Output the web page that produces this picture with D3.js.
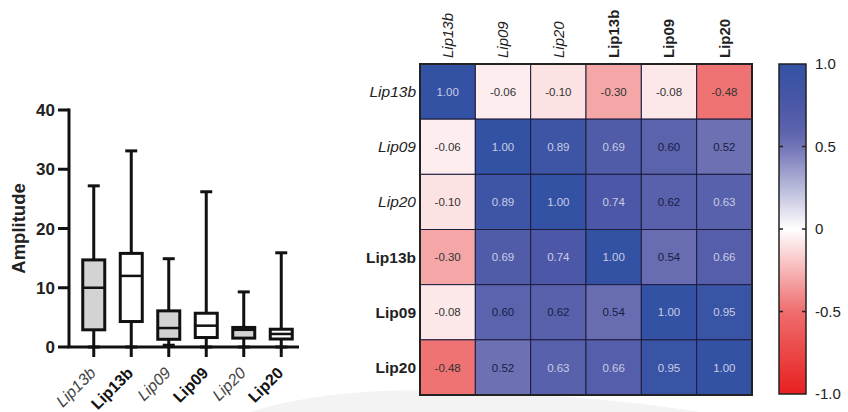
<!DOCTYPE html>
<html><head><meta charset="utf-8">
<script src="https://cdn.jsdelivr.net/npm/d3@7"></script>
<style>
html,body{margin:0;padding:0;background:#fff;}
svg{display:block;font-family:"Liberation Sans",Arial,sans-serif;}
</style></head>
<body><svg id="c" width="848" height="412"></svg>
<script>
// ---- Box plot data ----
const boxCategories = ["Lip13b","Lip13b","Lip09","Lip09","Lip20","Lip20"];
const boxMin    = [0,    0,    0.3,  0,    0,    0   ];
const boxQ1     = [2.9,  4.3,  1.3,  1.6,  1.5,  1.35];
const boxMedian = [10.0, 12.0, 3.2,  3.6,  2.9,  2.2 ];
const boxQ3     = [14.7, 15.8, 6.1,  5.7,  3.3,  3.0 ];
const boxMax    = [27.2, 33.1, 14.9, 26.2, 9.3,  15.9];
const yTicks = [0, 10, 20, 30, 40];
const yTitle = "Amplitude";

// ---- Heatmap data ----
const heatLabels = ["Lip13b","Lip09","Lip20","Lip13b","Lip09","Lip20"];
const corr = [
  [ 1.00, -0.06, -0.10, -0.30, -0.08, -0.48],
  [-0.06,  1.00,  0.89,  0.69,  0.60,  0.52],
  [-0.10,  0.89,  1.00,  0.74,  0.62,  0.63],
  [-0.30,  0.69,  0.74,  1.00,  0.54,  0.66],
  [-0.08,  0.60,  0.62,  0.54,  1.00,  0.95],
  [-0.48,  0.52,  0.63,  0.66,  0.95,  1.00]
];
const cbTicks = [1.0, 0.5, 0, -0.5, -1.0];
const cbTickLabels = ["1.0","0.5","0","-0.5","-1.0"];

const svg = d3.select("#c");
const italicIdx = i => i < 3; // heatmap: first three italic
const boxItalic = i => i % 2 === 0;

// faint background swoosh
svg.append("path").attr("d", "M 250 412 Q 330 386 460 391 Q 610 397 700 412 Z").attr("fill", "#f3f3f3");

// ================= BOX PLOT =================
const y = d3.scaleLinear().domain([0, 40]).range([347, 110]);
const x = d3.scaleBand().domain(d3.range(boxCategories.length)).range([75, 300]).paddingInner(0.4).paddingOuter(0.2);
const g1 = svg.append("g");
const ink = "#111";

// axes
g1.append("line").attr("x1", 69).attr("x2", 69).attr("y1", y(40) - 1.5).attr("y2", y(0))
  .attr("stroke", ink).attr("stroke-width", 3);
g1.append("line").attr("x1", 67.5).attr("x2", 299).attr("y1", y(0)).attr("y2", y(0))
  .attr("stroke", ink).attr("stroke-width", 3);
yTicks.forEach(t => {
  g1.append("line").attr("x1", 58).attr("x2", 69).attr("y1", y(t)).attr("y2", y(t))
    .attr("stroke", ink).attr("stroke-width", 3);
  g1.append("text").attr("x", 55).attr("y", y(t)).attr("dy", "0.36em").attr("text-anchor", "end")
    .attr("font-size", 17).attr("font-weight", "bold").attr("fill", "#222").text(t);
});
g1.append("text").attr("transform", `translate(25,${(y(0)+y(40))/2}) rotate(-90)`)
  .attr("text-anchor", "middle").attr("font-size", 18.5).attr("font-weight", "bold").attr("fill", "#222").text(yTitle);

boxCategories.forEach((c, i) => {
  const cx = x(i) + x.bandwidth() / 2;
  const bw = 22;
  // x tick
  g1.append("line").attr("x1", cx).attr("x2", cx).attr("y1", y(0)).attr("y2", y(0) + 10)
    .attr("stroke", ink).attr("stroke-width", 3);
  // whiskers
  g1.append("line").attr("x1", cx).attr("x2", cx).attr("y1", y(boxMax[i])).attr("y2", y(boxQ3[i]))
    .attr("stroke", ink).attr("stroke-width", 3);
  g1.append("line").attr("x1", cx).attr("x2", cx).attr("y1", y(boxQ1[i])).attr("y2", y(boxMin[i]))
    .attr("stroke", ink).attr("stroke-width", 3);
  [boxMax[i], boxMin[i]].forEach(v => {
    g1.append("line").attr("x1", cx - 6).attr("x2", cx + 6).attr("y1", y(v)).attr("y2", y(v))
      .attr("stroke", ink).attr("stroke-width", 3);
  });
  // box
  g1.append("rect").attr("x", cx - bw / 2).attr("width", bw)
    .attr("y", y(boxQ3[i])).attr("height", y(boxQ1[i]) - y(boxQ3[i]))
    .attr("fill", boxItalic(i) ? "#d3d3d3" : "#fff").attr("stroke", ink).attr("stroke-width", 3);
  g1.append("line").attr("x1", cx - bw / 2).attr("x2", cx + bw / 2).attr("y1", y(boxMedian[i])).attr("y2", y(boxMedian[i]))
    .attr("stroke", ink).attr("stroke-width", 2.5);
  // label
  g1.append("text").attr("transform", `translate(${cx + 3},${y(0) + 27}) rotate(-45)`)
    .attr("text-anchor", "end").attr("font-size", 16)
    .attr("font-style", boxItalic(i) ? "italic" : "normal")
    .attr("font-weight", boxItalic(i) ? "normal" : "bold")
    .attr("fill", boxItalic(i) ? "#444" : "#111").text(c);
});

// ================= HEATMAP =================
const hx = d3.scaleBand().domain(d3.range(heatLabels.length)).range([420, 752]);
const hy = d3.scaleBand().domain(d3.range(heatLabels.length)).range([64, 395]);
const color = d3.scaleLinear()
  .domain([-1, -0.5, 0, 0.5, 0.6, 0.75, 1])
  .range(["#e8201f", "#ef6d6e", "#ffffff", "#7174b6", "#5b63ad", "#4b57a7", "#3452a4"]);
const g2 = svg.append("g");

corr.forEach((row, r) => {
  row.forEach((v, c) => {
    g2.append("rect").attr("x", hx(c)).attr("y", hy(r)).attr("width", hx.bandwidth()).attr("height", hy.bandwidth())
      .attr("fill", color(v)).attr("stroke", "#1c1c3c").attr("stroke-width", 1);
    let tc;
    if (v < 0) tc = "#333";
    else if (v > 0.625) tc = "#c9cce6";
    else tc = "#1a1d45";
    g2.append("text").attr("x", hx(c) + hx.bandwidth() / 2).attr("y", hy(r) + hy.bandwidth() / 2)
      .attr("dy", "0.36em").attr("text-anchor", "middle").attr("font-size", 11.5).attr("fill", tc)
      .text(v.toFixed(2));
  });
});
g2.append("rect").attr("x", 420).attr("y", 64).attr("width", 332).attr("height", 331)
  .attr("fill", "none").attr("stroke", "#222").attr("stroke-width", 2);

heatLabels.forEach((l, i) => {
  g2.append("text").attr("transform", `translate(${hx(i) + hx.bandwidth() / 2},58) rotate(-90)`)
    .attr("dy", "0.36em").attr("text-anchor", "start")
    .attr("font-size", 15).attr("font-style", italicIdx(i) ? "italic" : "normal")
    .attr("font-weight", italicIdx(i) ? "normal" : "bold").attr("fill", "#222").text(l);
  g2.append("text").attr("x", 416).attr("y", hy(i) + hy.bandwidth() / 2).attr("dy", "0.36em")
    .attr("text-anchor", "end").attr("font-size", 15.5)
    .attr("font-style", italicIdx(i) ? "italic" : "normal")
    .attr("font-weight", italicIdx(i) ? "normal" : "bold").attr("fill", "#222").text(l);
});

// ================= COLOR BAR =================
const cy = d3.scaleLinear().domain([-1, 1]).range([394, 64]);
const defs = svg.append("defs");
const grad = defs.append("linearGradient").attr("id", "cbg").attr("x1", 0).attr("x2", 0).attr("y1", 1).attr("y2", 0);
d3.range(0, 1.0001, 0.05).forEach(t => {
  grad.append("stop").attr("offset", t).attr("stop-color", color(-1 + 2 * t));
});
const cbx0 = 779, cbx1 = 806;
svg.append("rect").attr("x", cbx0).attr("y", cy(1)).attr("width", cbx1 - cbx0).attr("height", cy(-1) - cy(1))
  .attr("fill", "url(#cbg)").attr("stroke", "#222").attr("stroke-width", 1.5);
cbTicks.forEach((t, i) => {
  if (Math.abs(t) < 1) {
    svg.append("line").attr("x1", cbx0).attr("x2", cbx0 + 4).attr("y1", cy(t)).attr("y2", cy(t)).attr("stroke", "#222").attr("stroke-width", 1.5);
    svg.append("line").attr("x1", cbx1 - 4).attr("x2", cbx1).attr("y1", cy(t)).attr("y2", cy(t)).attr("stroke", "#222").attr("stroke-width", 1.5);
  }
  svg.append("text").attr("x", 815).attr("y", cy(t)).attr("dy", "0.36em").attr("font-size", 15)
    .attr("fill", "#222").text(cbTickLabels[i]);
});
</script></body></html>
